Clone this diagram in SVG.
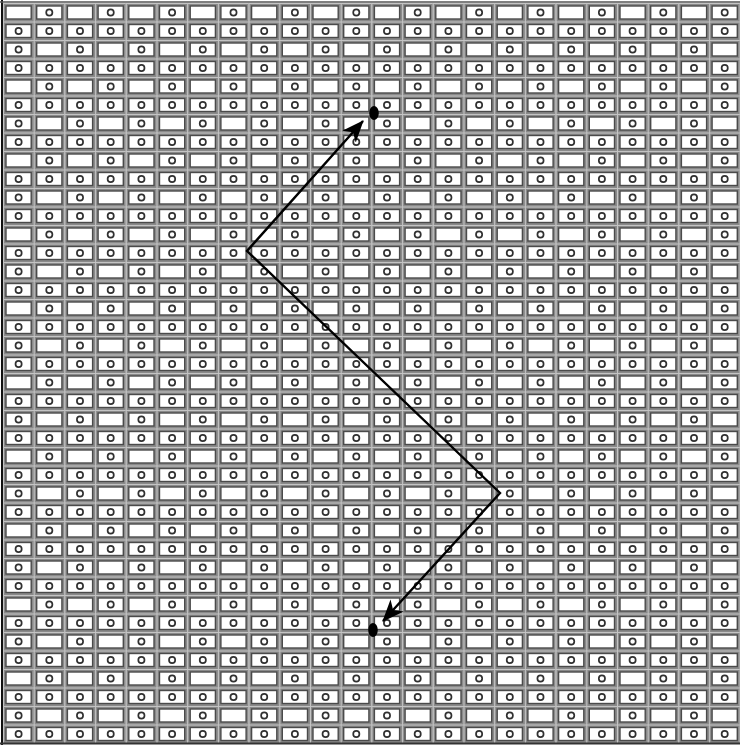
<svg xmlns="http://www.w3.org/2000/svg" width="740" height="745" viewBox="0 0 740 745">
  <style>
    .cell { fill: #ffffff; stroke: #4a4a4a; stroke-width: 1.4; }
    .hole { fill: none; stroke: #303030; stroke-width: 1.7; }
    .sep { stroke: #c4c4c4; stroke-width: 1; }
    .path { fill: none; stroke: #000; stroke-width: 2.4; stroke-linejoin: miter; }
    .dot { fill: #000; }
  </style>
  <defs>
    <g id="tile">
      <rect x="0" y="0" width="61.4" height="74" fill="#8a8a8a"/>
      <line class="sep" x1="0.5" y1="0" x2="0.5" y2="74"/>
      <line class="sep" x1="31.2" y1="0" x2="31.2" y2="74"/>
      <line class="sep" x1="0" y1="0.5" x2="61.4" y2="0.5"/>
      <line class="sep" x1="0" y1="19" x2="61.4" y2="19"/>
      <line class="sep" x1="0" y1="37.5" x2="61.4" y2="37.5"/>
      <line class="sep" x1="0" y1="56" x2="61.4" y2="56"/>
      <rect class="cell" x="3" y="3" width="25.2" height="13"/>
      <rect class="cell" x="33.7" y="3" width="25.2" height="13"/>
      <rect class="cell" x="3" y="21.5" width="25.2" height="13"/>
      <rect class="cell" x="33.7" y="21.5" width="25.2" height="13"/>
      <rect class="cell" x="3" y="40" width="25.2" height="13"/>
      <rect class="cell" x="33.7" y="40" width="25.2" height="13"/>
      <rect class="cell" x="3" y="58.5" width="25.2" height="13"/>
      <rect class="cell" x="33.7" y="58.5" width="25.2" height="13"/>
      <circle class="hole" cx="46.3" cy="9.5" r="3.1"/>
      <circle class="hole" cx="15.6" cy="28" r="3.1"/>
      <circle class="hole" cx="46.3" cy="28" r="3.1"/>
      <circle class="hole" cx="15.6" cy="46.5" r="3.1"/>
      <circle class="hole" cx="15.6" cy="65" r="3.1"/>
      <circle class="hole" cx="46.3" cy="65" r="3.1"/>
    </g>
    <g id="strip">
      <use href="#tile" y="0"/>
      <use href="#tile" y="74"/>
      <use href="#tile" y="148"/>
      <use href="#tile" y="222"/>
      <use href="#tile" y="296"/>
      <use href="#tile" y="370"/>
      <use href="#tile" y="444"/>
      <use href="#tile" y="518"/>
      <use href="#tile" y="592"/>
      <use href="#tile" y="666"/>
    </g>
    <marker id="head" viewBox="0 0 22 18" refX="21" refY="9" markerWidth="22" markerHeight="18" markerUnits="userSpaceOnUse" orient="auto-start-reverse">
      <path d="M0,0 L22,9 L0,18 L6,9 z" fill="#000"/>
    </marker>
  </defs>
  <g id="grid-field">
    <rect x="0" y="0" width="740" height="745" fill="#ffffff"/>
    <g transform="translate(3,3)">
      <use href="#strip" x="0"/>
      <use href="#strip" x="61.4"/>
      <use href="#strip" x="122.8"/>
      <use href="#strip" x="184.2"/>
      <use href="#strip" x="245.6"/>
      <use href="#strip" x="307"/>
      <use href="#strip" x="368.4"/>
      <use href="#strip" x="429.8"/>
      <use href="#strip" x="491.2"/>
      <use href="#strip" x="552.6"/>
      <use href="#strip" x="614"/>
      <use href="#strip" x="675.4"/>
    </g>
    <line x1="2" y1="0" x2="2" y2="745" stroke="#111" stroke-width="2"/>
    <line x1="0" y1="743.5" x2="740" y2="743.5" stroke="#333" stroke-width="2"/>
    <line x1="0" y1="2" x2="740" y2="2" stroke="#555" stroke-width="1.5"/>
  </g>
  <g id="connectors">
    <polyline class="path" points="363,121 247,251 500,493 383,621" marker-start="url(#head)" marker-end="url(#head)"/>
  </g>
  <g id="dot-top">
    <ellipse class="dot" cx="374" cy="113" rx="4.8" ry="7"/>
  </g>
  <g id="dot-bottom">
    <ellipse class="dot" cx="373" cy="630" rx="4.8" ry="7"/>
  </g>
</svg>
